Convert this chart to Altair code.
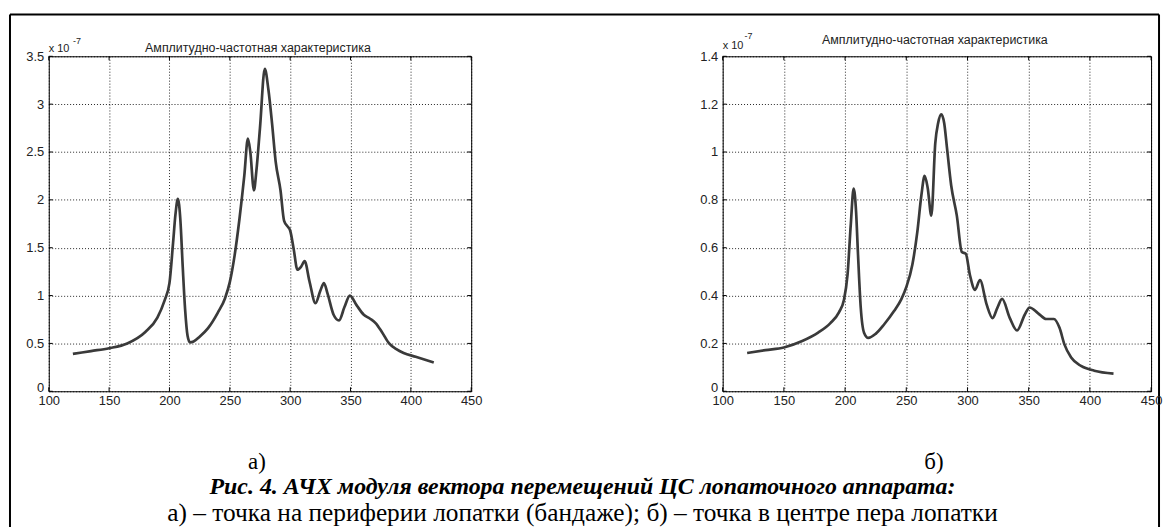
import altair as alt
import pandas as pd

# ---------------- data ----------------
FREQ_A = [120, 135, 150, 165, 180, 190, 196, 200, 203, 205, 207, 209, 211, 213, 215, 217,
          220, 225, 232, 240, 246, 250, 254, 258, 262, 265, 267, 270, 272, 275, 279, 282,
          285, 288, 292, 295, 298, 300, 303, 306, 309, 312, 316, 321, 325, 328, 331, 336,
          340.5, 345, 349.5, 355, 361, 366, 371, 376, 382, 388, 394, 404, 419]
AMP_A = [0.39, 0.42, 0.45, 0.50, 0.62, 0.77, 0.95, 1.13, 1.55, 1.85, 2.01, 1.80, 1.30, 0.85, 0.58, 0.51,
         0.52, 0.57, 0.66, 0.82, 0.97, 1.14, 1.42, 1.80, 2.25, 2.64, 2.50, 2.10, 2.30, 2.75, 3.37, 3.15,
         2.80, 2.40, 2.10, 1.78, 1.72, 1.68, 1.48, 1.27, 1.30, 1.36, 1.15, 0.92, 1.05, 1.13, 1.02, 0.80,
         0.74, 0.88, 1.00, 0.90, 0.80, 0.76, 0.71, 0.62, 0.50, 0.44, 0.40, 0.36, 0.30]

FREQ_B = [120, 135, 150, 165, 178, 188, 195, 199, 202, 204.7, 207, 209, 210.5, 212.8, 215.5, 219,
          225, 232, 240, 246, 250, 255, 259, 262.3, 265, 267.5, 270.5, 273.7, 276, 278.6, 281,
          283.2, 286.7, 291.3, 295.4, 298.6, 302, 306.2, 310.2, 315.7, 320.5, 324.5, 328.3,
          334.6, 340.5, 346.8, 350.8, 357.5, 364.4, 370.6, 375.2, 379.2, 384.7, 392.8, 403.6, 419.3]
AMP_B = [0.160, 0.172, 0.183, 0.210, 0.245, 0.285, 0.330, 0.380, 0.486, 0.700, 0.847, 0.750, 0.580,
         0.350, 0.245, 0.223, 0.240, 0.280, 0.335, 0.385, 0.435, 0.530, 0.665, 0.817, 0.900, 0.850,
         0.734, 1.037, 1.120, 1.157, 1.120, 1.020, 0.860, 0.734, 0.582, 0.575, 0.486, 0.424, 0.465,
         0.362, 0.306, 0.350, 0.386, 0.306, 0.254, 0.320, 0.350, 0.327, 0.302, 0.302, 0.265, 0.196,
         0.141, 0.106, 0.086, 0.074]

X_TICKS = [100, 150, 200, 250, 300, 350, 400, 450]
Y_TICKS_A = [0, 0.5, 1, 1.5, 2, 2.5, 3, 3.5]
Y_TICKS_B = [0, 0.2, 0.4, 0.6, 0.8, 1.0, 1.2, 1.4]

PLOT_TITLE = "Амплитудно-частотная характеристика"
SCALE_BASE = "x 10"
SCALE_EXP = "-7"
PANEL_LABELS = ["а)", "б)"]
CAPTION_1 = "Рис. 4. АЧХ модуля вектора перемещений ЦС лопаточного аппарата:"
CAPTION_2 = "а) – точка на периферии лопатки (бандаже); б) – точка в центре пера лопатки"

SANS = "Liberation Sans"
SERIF = "Liberation Serif"
INK = "#222222"
LINE = "#3a3a3a"
H = 337
TICK = 4


def one(text):
    return pd.DataFrame({"t": [text]})


def txt(text, x, y, size, font=SANS, align="left", baseline="alphabetic", **kw):
    return alt.Chart(one(text)).mark_text(
        align=align, baseline=baseline, font=font, fontSize=size, color=kw.pop("color", INK), **kw
    ).encode(text="t:N", x=alt.value(x), y=alt.value(y))


def panel(freq, amp, yticks, ymax, width, title_y, base_y, exp_x, exp_y, label):
    df = pd.DataFrame({"f": freq, "v": amp})
    xs = alt.Scale(domain=[100, 450], nice=False, zero=False)
    ys = alt.Scale(domain=[0, ymax], nice=False)
    grid = dict(grid=True, gridDash=[1, 2], gridColor="#000000", gridOpacity=0.85, gridWidth=1,
                ticks=False, domain=False, labelFont=SANS, labelFontSize=13, labelColor=INK,
                title=None)
    line = alt.Chart(df).mark_line(interpolate="monotone", color=LINE, strokeWidth=2.7).encode(
        x=alt.X("f:Q", scale=xs,
                axis=alt.Axis(values=X_TICKS, labelPadding=3, labelFlush=False, **grid)),
        y=alt.Y("v:Q", scale=ys,
                axis=alt.Axis(values=yticks, labelPadding=5, format="~g",
                              labelOffset={"condition": {"test": "datum.value == 0", "value": -4},
                                           "value": 0},
                              **grid)),
    )
    # MATLAB-style inward ticks on all four sides of the box
    xt = pd.DataFrame({"f": X_TICKS})
    yt = pd.DataFrame({"v": yticks})
    tk = dict(color="#000000", strokeWidth=1)
    ticks = [
        alt.Chart(xt).mark_rule(**tk).encode(x=alt.X("f:Q", scale=xs),
                                             y=alt.value(H), y2=alt.value(H - TICK)),
        alt.Chart(xt).mark_rule(**tk).encode(x=alt.X("f:Q", scale=xs),
                                             y=alt.value(0), y2=alt.value(TICK)),
        alt.Chart(yt).mark_rule(**tk).encode(y=alt.Y("v:Q", scale=ys),
                                             x=alt.value(0), x2=alt.value(TICK)),
        alt.Chart(yt).mark_rule(**tk).encode(y=alt.Y("v:Q", scale=ys),
                                             x=alt.value(width - TICK), x2=alt.value(width)),
    ]
    return [
        line, *ticks,
        txt(PLOT_TITLE, width / 2 - 2, title_y, 12.5, align="center", baseline="middle"),
        txt(SCALE_BASE, 0, base_y, 11),
        txt(SCALE_EXP, exp_x, exp_y, 9),
        txt(label, width / 2 - 3, 408, 23, font=SERIF, align="center", baseline="middle",
            color="#000000"),
    ]


layers_a = panel(FREQ_A, AMP_A, Y_TICKS_A, 3.5, 425, -8, -4, 24.5, -12.5, PANEL_LABELS[0])
layers_b = panel(FREQ_B, AMP_B, Y_TICKS_B, 1.4, 431, -16, -7.5, 22, -17.5, PANEL_LABELS[1])

# outer frame and caption (decorations in the left panel's coordinates)
frame_top = alt.Chart(one("")).mark_rule(color="#000", strokeWidth=2).encode(
    x=alt.value(-39), x2=alt.value(1117), y=alt.value(-42))
frame_left = alt.Chart(one("")).mark_rule(color="#000", strokeWidth=2).encode(
    x=alt.value(-39), y=alt.value(-42), y2=alt.value(476))
frame_right = alt.Chart(one("")).mark_rule(color="#000", strokeWidth=2).encode(
    x=alt.value(1117), y=alt.value(-42), y2=alt.value(476))
cap1 = txt(CAPTION_1, 537, 433, 24, font=SERIF, align="center", baseline="middle",
           fontWeight="bold", fontStyle="italic", color="#000000")
cap2 = txt(CAPTION_2, 537, 460, 25.5, font=SERIF, align="center", baseline="middle",
           color="#000000")

left = alt.layer(*layers_a, frame_top, frame_left, frame_right, cap1, cap2).properties(
    width=425, height=H)
right = alt.layer(*layers_b).properties(width=431, height=H)

chart = alt.hconcat(left, right, spacing=253, bounds="flush").properties(
    padding={"left": 0, "top": 3, "right": 0, "bottom": 0},
    background="white",
).configure_view(stroke="#000000", strokeWidth=1)

chart.save("out.html", embed_options={"renderer": "svg", "actions": False})
